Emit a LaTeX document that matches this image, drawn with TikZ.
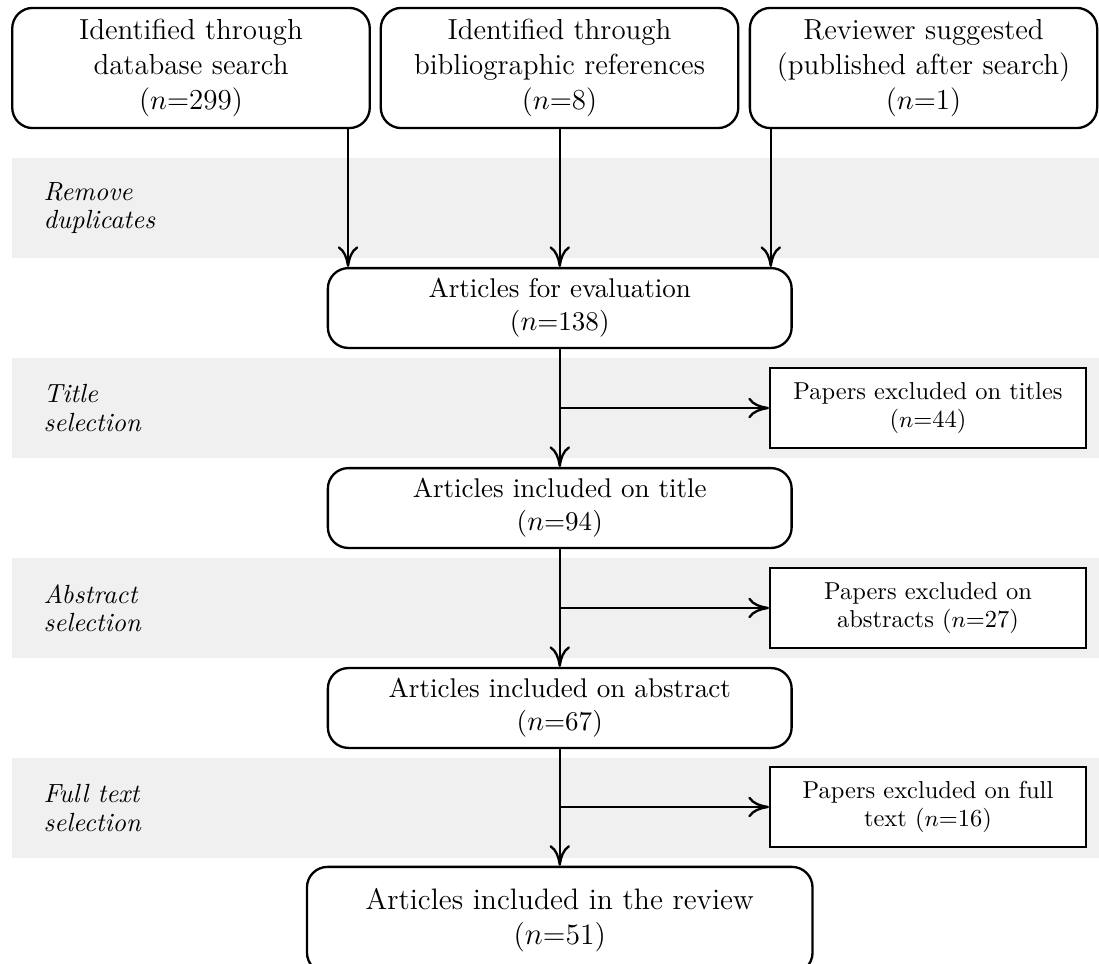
\documentclass[tikz,border=0pt]{standalone}
\usepackage{amsfonts, amsmath}
\usepackage{tikz}
\usetikzlibrary{arrows.meta}
\definecolor{bandgray}{HTML}{F0F0F0}

\begin{document}
\begin{tikzpicture}[scale=1,
    src/.style={draw, line width=0.9pt, rounded corners=0.28cm, align=center,
      minimum width=4.88cm, minimum height=1.64cm, font=\fontsize{11.25}{13.6}\selectfont},
    stage/.style={draw, line width=0.9pt, rounded corners=0.28cm, align=center,
      minimum width=6.33cm, minimum height=1.09cm, font=\fontsize{10.5}{12.8}\selectfont},
    excl/.style={draw, line width=0.9pt, fill=white, align=center,
      minimum width=4.31cm, minimum height=1.09cm, font=\fontsize{9.5}{10.8}\selectfont},
    phase/.style={anchor=west, align=left, font=\fontsize{10.2}{11}\selectfont\itshape},
    arr/.style={line width=0.9pt, -{Computer Modern Rightarrow[length=8pt,width=8pt]}}]
  \useasboundingbox (0,0) rectangle (15,-13.144);

  % shaded phases
  \foreach \top in {2.157,4.886,7.616,10.346}
    \fill[bandgray] (0.164,-\top) rectangle (15,-\top-1.364);

  \node[phase] (dup)  at (0.47,-2.839) {Remove\\duplicates};
  \node[phase] (tsel) at (0.47,-5.569) {Title\\selection};
  \node[phase] (asel) at (0.47,-8.298) {Abstract\\selection};
  \node[phase] (fsel) at (0.47,-11.028) {Full text\\selection};

  % sources
  \node[src] (db)  at (2.607,-0.928) {Identified through\\database search\\($n$=299)};
  \node[src] (bib) at (7.637,-0.928) {Identified through\\bibliographic references\\($n$=8)};
  \node[src, minimum width=4.74cm] (rev) at (12.605,-0.928) {Reviewer suggested\\(published after search)\\($n$=1)};

  % main column
  \node[stage] (eval)  at (7.64,-4.204) {Articles for evaluation\\($n$=138)};
  \node[stage] (title) at (7.64,-6.934) {Articles included on title\\($n$=94)};
  \node[stage] (abs)   at (7.64,-9.663) {Articles included on abstract\\($n$=67)};
  \node[stage, minimum width=6.9cm, minimum height=1.45cm, font=\fontsize{11.5}{13.8}\selectfont]
    (final) at (7.64,-12.557) {Articles included in the review\\($n$=51)};

  % exclusions
  \node[excl] (ex1) at (12.666,-5.569) {Papers excluded on titles\\($n$=44)};
  \node[excl] (ex2) at (12.666,-8.298) {Papers excluded on\\abstracts ($n$=27)};
  \node[excl] (ex3) at (12.666,-11.014) {Papers excluded on full\\text ($n$=16)};

  \coordinate (c1) at (4.75,0);
  \coordinate (c2) at (7.64,0);
  \coordinate (c3) at (10.52,0);
  \draw[arr] (c1 |- db.south)  -- (c1 |- eval.north);
  \draw[arr] (c2 |- bib.south) -- (c2 |- eval.north);
  \draw[arr] (c3 |- rev.south) -- (c3 |- eval.north);

  \draw[arr] (eval) -- (title);
  \draw[arr] (title) -- (abs);
  \draw[arr] (abs) -- (final);
  \draw[arr] (eval.south |- ex1) -- (ex1);
  \draw[arr] (title.south |- ex2) -- (ex2);
  \draw[arr] (abs.south |- ex3) -- (ex3);
\end{tikzpicture}
\end{document}
